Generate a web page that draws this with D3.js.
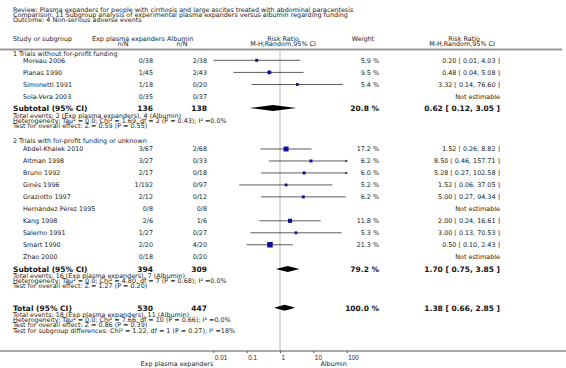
<!DOCTYPE html>
<html>
<head>
<meta charset="utf-8">
<script src="https://cdn.jsdelivr.net/npm/d3@7"></script>
<style>
  body { margin: 0; background: #fff; }
  svg { display: block; font-family: "DejaVu Sans", Verdana, sans-serif; }
  .t { font-size: 6.4px; fill: #222; }
  .b { font-size: 7.5px; font-weight: bold; fill: #111; }
</style>
</head>
<body>
<div id="chart"></div>
<script>
// Forest plot: non-serious adverse events, subgrouped by funding
const titleLines = [
    "Review:  Plasma expanders for people with cirrhosis and large ascites treated with abdominal paracentesis",
    "Comparison:  11 Subgroup analysis of experimental plasma expanders versus albumin regarding funding",
    "Outcome:  4 Non-serious adverse events"
];

const groupNames = ["1 Trials without for-profit funding", "2 Trials with for-profit funding or unknown"];

const studies1 = ["Moreau 2006", "Planas 1990", "Simonetti 1991", "Sola-Vera 2003"];
const exp1 = ["0/38", "1/45", "1/18", "0/35"];
const alb1 = ["2/38", "2/43", "0/20", "0/37"];
const weight1 = [5.9, 9.5, 5.4, null];
const rr1 = [[0.20, 0.01, 4.03], [0.48, 0.04, 5.08], [3.32, 0.14, 76.60], null];

const studies2 = ["Abdel-Khalek 2010", "Altman 1998", "Bruno 1992", "Ginés 1996", "Graziotto 1997",
    "Hernández Pérez 1995", "Kang 1998", "Salerno 1991", "Smart 1990", "Zhao  2000"];
const exp2 = ["3/67", "3/27", "2/17", "1/192", "2/12", "0/8", "2/6", "1/27", "2/20", "0/18"];
const alb2 = ["2/68", "0/33", "0/18", "0/97", "0/12", "0/8", "1/6", "0/27", "4/20", "0/20"];
const weight2 = [17.2, 6.2, 6.0, 5.2, 6.2, null, 11.8, 5.3, 21.3, null];
const rr2 = [[1.52, 0.26, 8.82], [8.50, 0.46, 157.71], [5.28, 0.27, 102.58], [1.52, 0.06, 37.05],
    [5.00, 0.27, 94.34], null, [2.00, 0.24, 16.61], [3.00, 0.13, 70.53], [0.50, 0.10, 2.43], null];

const subLabels = ["Subtotal (95% CI)", "Subtotal (95% CI)", "Total (95% CI)"];
const subExpN = [136, 394, 530];
const subAlbN = [138, 309, 447];
const subWeight = [20.8, 79.2, 100.0];
const subRR = [[0.62, 0.12, 3.05], [1.70, 0.75, 3.85], [1.38, 0.66, 2.85]];
const subNotes = [
    ["Total events: 2 (Exp plasma expanders), 4 (Albumin)",
     "Heterogeneity: Tau\u00b2 = 0.0; Chi\u00b2 = 1.69, df = 2 (P = 0.43); I\u00b2 =0.0%",
     "Test for overall effect: Z = 0.59 (P = 0.55)"],
    ["Total events: 16 (Exp plasma expanders), 7 (Albumin)",
     "Heterogeneity: Tau\u00b2 = 0.0; Chi\u00b2 = 4.80, df = 7 (P = 0.68); I\u00b2 =0.0%",
     "Test for overall effect: Z = 1.27 (P = 0.20)"],
    ["Total events: 18 (Exp plasma expanders), 11 (Albumin)",
     "Heterogeneity: Tau\u00b2 = 0.0; Chi\u00b2 = 7.66, df = 10 (P = 0.66); I\u00b2 =0.0%",
     "Test for overall effect: Z = 0.86 (P = 0.39)",
     "Test for subgroup differences: Chi\u00b2 = 1.22, df = 1 (P = 0.27), I\u00b2 =18%"]
];

const axisTicks = [0.01, 0.1, 1, 10, 100];

function drawForest() {
    const W = 566, H = 368;
    const svg = d3.select("#chart").append("svg")
        .attr("width", W)
        .attr("height", H);

    const x = d3.scaleLog().domain([0.01, 100]).range([213.3, 346.7]);
    const axisY = 351;

    // column anchors
    const col = { left: 13, study: 23, exp: 153, alb: 207, weight: 379, rr: 500 };

    const txt = (cls, xx, yy, s, anchor) => svg.append("text")
        .attr("class", cls)
        .attr("x", xx)
        .attr("y", yy)
        .attr("text-anchor", anchor || "start")
        .text(s);

    // title block
    titleLines.forEach((s, i) => txt("t", col.left, 12 + i * 5, s));

    // column headers
    txt("t", col.left, 41, "Study or subgroup");
    txt("t", 92, 41, "Exp plasma expanders");
    txt("t", 167, 41, "Albumin");
    txt("t", 123, 46, "n/N", "middle");
    txt("t", 182, 46, "n/N", "middle");
    txt("t", 283, 41, "Risk Ratio", "middle");
    txt("t", 283, 46, "M-H,Random,95% CI", "middle");
    txt("t", 363, 41, "Weight", "middle");
    txt("t", 464, 41, "Risk Ratio", "middle");
    txt("t", 462, 46, "M-H,Random,95% CI", "middle");

    svg.append("line")
        .attr("x1", 0).attr("x2", 562)
        .attr("y1", 49.5).attr("y2", 49.5)
        .style("stroke", "#9a9a9a")
        .style("stroke-width", 2);

    // no-effect line
    svg.append("line")
        .attr("x1", x(1)).attr("x2", x(1))
        .attr("y1", 51).attr("y2", axisY)
        .style("stroke", "#dcdcdc")
        .style("stroke-width", 2);

    const fmt = d3.format(".2f");
    const rrText = r => r ? `${fmt(r[0])} [ ${fmt(r[1])}, ${fmt(r[2])} ]` : "Not estimable";

    function studyRow(name, e, a, w, r, y) {
        txt("t", col.study, y + 2.2, name);
        txt("t", col.exp, y + 2.2, e, "end");
        txt("t", col.alb, y + 2.2, a, "end");
        if (w !== null) txt("t", col.weight, y + 2.2, w.toFixed(1) + " %", "end");
        txt("t", col.rr, y + 2.2, rrText(r), "end");
        if (!r) return;
        const lo = Math.max(r[1], 0.01), hi = Math.min(r[2], 100);
        svg.append("line")
            .attr("x1", x(lo)).attr("x2", x(hi))
            .attr("y1", y).attr("y2", y)
            .style("stroke", "#333")
            .style("stroke-width", 0.8);
        if (r[2] > 100) {
            const xe = x(100);
            svg.append("path")
                .attr("d", `M${xe + 1.5},${y} L${xe - 1.5},${y - 1.3} L${xe - 1.5},${y + 1.3} Z`)
                .style("fill", "#333");
        }
        const s = 1.2 * Math.sqrt(w);
        svg.append("rect")
            .attr("x", x(r[0]) - s / 2)
            .attr("y", y - s / 2)
            .attr("width", s)
            .attr("height", s)
            .style("fill", "#10109a");
    }

    function subRow(i, y, noteY) {
        txt("b", col.left, y + 2.7, subLabels[i]);
        txt("b", col.exp, y + 2.7, subExpN[i], "end");
        txt("b", col.alb, y + 2.7, subAlbN[i], "end");
        txt("b", col.weight, y + 2.7, subWeight[i].toFixed(1) + " %", "end");
        txt("b", col.rr, y + 2.7, rrText(subRR[i]), "end");
        const r = subRR[i];
        svg.append("path")
            .attr("d", `M${x(r[1])},${y} L${x(r[0])},${y - 3} L${x(r[2])},${y} L${x(r[0])},${y + 3} Z`)
            .style("fill", "#000");
        subNotes[i].forEach((s, k) => txt("t", col.left, noteY + k * 5.2 + 2, s));
    }

    // group 1
    txt("t", col.left, 55.5, groupNames[0]);
    studies1.forEach((s, i) => studyRow(s, exp1[i], alb1[i], weight1[i], rr1[i], 60.3 + i * 12.1));
    subRow(0, 108, 116);

    // group 2
    txt("t", col.left, 143, groupNames[1]);
    studies2.forEach((s, i) => studyRow(s, exp2[i], alb2[i], weight2[i], rr2[i], 149 + i * 11.97));
    subRow(1, 269, 276);

    // overall
    subRow(2, 307.8, 315);

    // axis
    svg.append("line")
        .attr("x1", 0).attr("x2", W)
        .attr("y1", axisY).attr("y2", axisY)
        .style("stroke", "#555")
        .style("stroke-width", 1);

    const ax = svg.append("g")
        .attr("transform", `translate(0,${axisY})`)
        .call(d3.axisBottom(x).tickValues(axisTicks).tickSize(2).tickFormat(d => String(d)));
    ax.select(".domain").remove();
    ax.selectAll(".tick line").style("stroke", "#555");
    ax.selectAll(".tick text")
        .attr("class", "t")
        .attr("text-anchor", "start")
        .attr("x", 1)
        .attr("y", 4)
        .attr("font-family", null)
        .attr("font-size", null);

    txt("t", x(0.01), 365.5, "Exp plasma expanders", "end");
    txt("t", x(100), 365.5, "Albumin", "end");
}

drawForest();
</script>
</body>
</html>
